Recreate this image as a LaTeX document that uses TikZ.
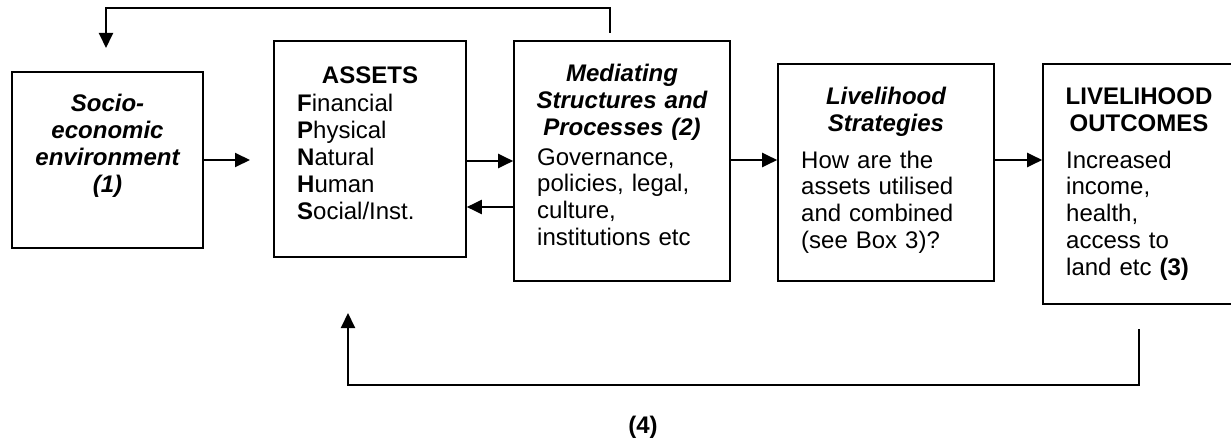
\documentclass[tikz,border=0pt]{standalone}
\usepackage{fontspec}
\setmainfont{Liberation Sans}
\usetikzlibrary{arrows.meta}

\begin{document}
\begin{tikzpicture}[x=1pt, y=-1pt,
  every node/.style={font=\fontsize{24}{26.8}\selectfont},
  stage/.style={draw, line width=1.6pt, inner sep=0pt},
  head/.style={inner sep=0pt, anchor=base, text width=200pt, align=center,
    font=\fontsize{24}{26.8}\selectfont\bfseries\itshape},
  body/.style={inner sep=0pt, anchor=base west, text width=170pt, align=left},
  arr/.style={line width=2pt, -{Triangle[length=15pt,width=14pt]}}]

	\clip (0,0) rectangle (1231,441);
	\fill[white] (0,0) rectangle (1231,441);

	% boxes
	\node[stage, minimum width=191pt, minimum height=176pt] (soc) at (107.5,160) {};
	\node[stage, minimum width=192pt, minimum height=216pt] (ast) at (370,149) {};
	\node[stage, minimum width=216pt, minimum height=240pt] (med) at (622,161) {};
	\node[stage, minimum width=216pt, minimum height=217pt] (str) at (886,172.5) {};
	\node[stage, minimum width=192pt, minimum height=240pt] (out) at (1139,184) {};

	% texts
	\node[head] (soctxt) at (107.5,112) {Socio-\\economic\\environment\\(1)};

	\node[head, font=\fontsize{24}{26.8}\selectfont\bfseries] (asthead) at (370,84) {ASSETS};
	\node[body] (astbody) at (297,112) {\textbf{F}inancial\\\textbf{P}hysical\\\textbf{N}atural\\\textbf{H}uman\\\textbf{S}ocial/Inst.};

	\node[head] (medhead) at (622,82) {Mediating\\Structures and\\Processes (2)};
	\node[body] (medbody) at (537,165) {Governance,\\policies, legal,\\culture,\\institutions etc};

	\node[head] (strhead) at (886,105) {Livelihood\\Strategies};
	\node[body] (strbody) at (801,168) {How are the\\assets utilised\\and combined\\(see Box 3)?};

	\node[head, font=\fontsize{24}{26.8}\selectfont\bfseries] (outhead) at (1139,105) {LIVELIHOOD\\OUTCOMES};
	\node[body] (outbody) at (1066,168) {Increased\\income,\\health,\\access to\\land etc \textbf{(3)}};

	\node[font=\fontsize{24}{26.8}\selectfont\bfseries] (fb) at (643,427) {(4)};

	% free ends
	\coordinate (socin) at (250,160);
	\coordinate (medtop) at (610,33);
	\coordinate (soctop) at (106,48);
	\coordinate (outlow) at (1139,329);
	\coordinate (astlow) at (348,313);

	% arrows
	\draw[arr] (soc.east) -- (socin);
	\draw[arr] (ast.east |- med.west) -- (med.west);
	\draw[arr] (med.west |- 0,207) -- (ast.east |- 0,207);
	\draw[arr] (med.east |- 0,160) -- (str.west |- 0,160);
	\draw[arr] (str.east |- 0,160) -- (out.west |- 0,160);
	\draw[arr] (medtop) -- ++(0,-25) -| (soctop);
	\draw[arr] (outlow) -- ++(0,56) -| (astlow);

\end{tikzpicture}
\end{document}
